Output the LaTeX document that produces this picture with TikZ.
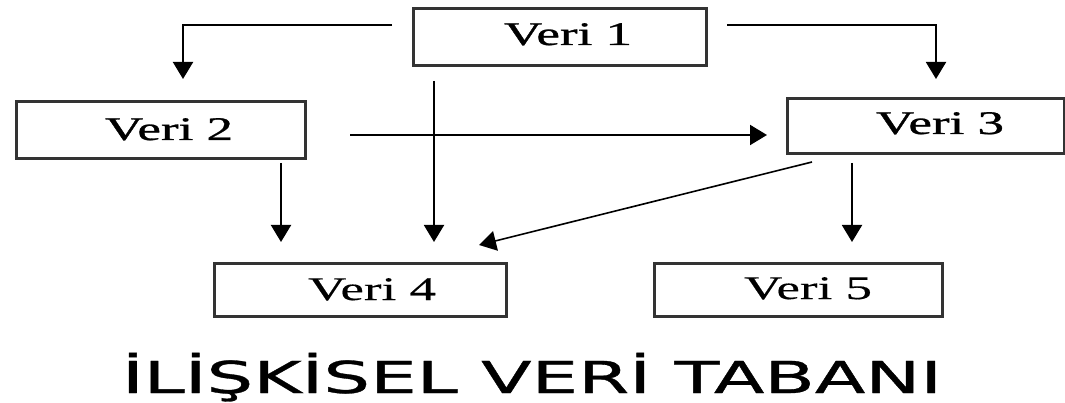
\documentclass[tikz,border=0pt]{standalone}
\usepackage{fontspec}
\setmainfont{Liberation Serif}
\newfontfamily\titlefont[FakeBold=0.7]{DejaVu Sans}
\newfontfamily\boxfont[FakeBold=0.8]{Liberation Serif}
\newfontfamily\boxfontlight[FakeBold=0.3]{Liberation Serif}
\usetikzlibrary{arrows.meta}
\definecolor{boxline}{HTML}{333333}
\tikzset{
  databox/.style={draw=boxline, line width=3pt, rectangle, inner sep=0pt},
  lbl/.style={anchor=base, inner sep=0pt, font=\boxfont\fontsize{33}{33}\selectfont},
  lbllight/.style={lbl, font=\boxfontlight\fontsize{33}{33}\selectfont},
  arr/.style={draw=black, line width=2pt, -{Triangle[width=20pt,length=17pt]}},
}
\newcommand{\wlbl}[1]{\resizebox{128pt}{\height}{#1}}
\begin{document}
\begin{tikzpicture}[x=1pt,y=-1pt]
\useasboundingbox (0,0) rectangle (1065,403);
% boxes
\node[databox, minimum width=293pt, minimum height=57pt] (v1) at (560,37) {};
\node[databox, minimum width=289pt, minimum height=57pt] (v2) at (161,130) {};
\node[databox, minimum width=277pt, minimum height=55pt] (v3) at (925.5,126) {};
\node[databox, minimum width=292pt, minimum height=53pt] (v4) at (360.5,290) {};
\node[databox, minimum width=288pt, minimum height=53pt] (v5) at (798.5,290) {};
% labels
\node[lbl] (t1) at (568,45) {\wlbl{Veri 1}};
\node[lbl] (t2) at (169,140) {\wlbl{Veri 2}};
\node[lbl] (t3) at (940,134) {\wlbl{Veri 3}};
\node[lbllight] (t4) at (372,300) {\wlbl{Veri 4}};
\node[lbllight] (t5) at (808,299) {\wlbl{Veri 5}};
% connector end points
\coordinate (s12) at (392,25);  \coordinate (e12) at (183,79);
\coordinate (s13) at (727,25);  \coordinate (e13) at (936,79);
\coordinate (s14) at (434,81);  \coordinate (e14) at (434,242);
\coordinate (s23) at (350,135); \coordinate (e23) at (767,135);
\coordinate (s24) at (281,163); \coordinate (e24) at (281,242);
\coordinate (s34) at (812,162); \coordinate (e34) at (479,245);
\coordinate (s35) at (852,163); \coordinate (e35) at (852,242);
% connectors
\draw[arr] (s12) -| (e12);
\draw[arr] (s13) -| (e13);
\draw[arr] (s14) -- (e14);
\draw[arr] (s23) -- (e23);
\draw[arr] (s24) -- (e24);
\draw[arr, line width=1.6pt] (s34) -- (e34);
\draw[arr] (s35) -- (e35);
% title
\node[anchor=base, inner sep=0pt] (title) at (532,393)
  {\resizebox{820pt}{\height}{\titlefont\fontsize{44}{44}\selectfont İLİŞKİSEL VERİ TABANI}};
\end{tikzpicture}
\end{document}
